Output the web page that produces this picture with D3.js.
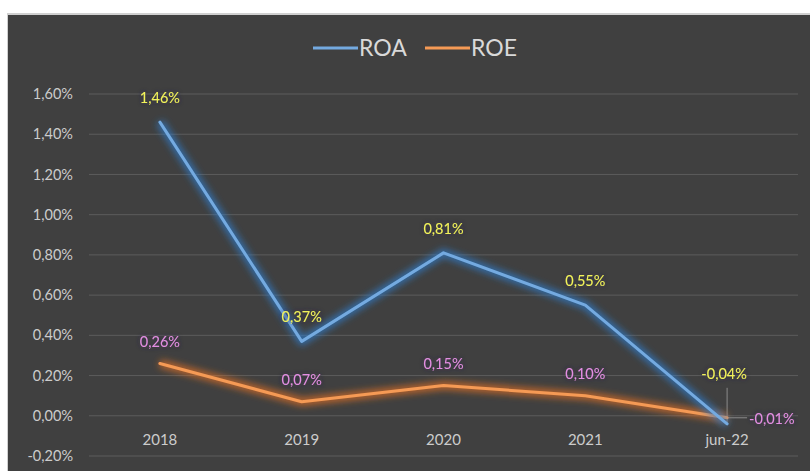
<!DOCTYPE html>
<html>
<head>
<meta charset="utf-8">
<script src="https://cdn.jsdelivr.net/npm/d3@7"></script>
<style>
  html, body { margin: 0; padding: 0; background: #ffffff; }
  svg { display: block; }
  text { font-family: Lato, "Open Sans", "DejaVu Sans", sans-serif; }
</style>
</head>
<body>
<svg id="chart" width="810" height="471"></svg>
<script>
// Periods on the category axis
const categories = ["2018", "2019", "2020", "2021", "jun-22"];
// Return on assets, percent
const roaValues = [1.46, 0.37, 0.81, 0.55, -0.04];
// Return on equity, percent
const roeValues = [0.26, 0.07, 0.15, 0.10, -0.01];
// Value axis ticks, percent
const yTicks = [-0.2, 0, 0.2, 0.4, 0.6, 0.8, 1.0, 1.2, 1.4, 1.6];
const seriesNames = ["ROA", "ROE"];

const W = 810, H = 471;
const svg = d3.select("#chart");

const fmt = v => v.toFixed(2).replace(".", ",") + "%";

// Glow filters
const defs = svg.append("defs");
const gf = defs.append("filter").attr("id", "lineGlow")
  .attr("x", "-20%").attr("y", "-50%").attr("width", "140%").attr("height", "200%");
gf.append("feGaussianBlur").attr("stdDeviation", 3.5);

const lf = defs.append("filter").attr("id", "labelGlow")
  .attr("x", "-20%").attr("y", "-40%").attr("width", "140%").attr("height", "180%");
lf.append("feGaussianBlur").attr("in", "SourceAlpha").attr("stdDeviation", 2.5).attr("result", "b");
lf.append("feFlood").attr("flood-color", "#2a2448").attr("flood-opacity", 0.9);
lf.append("feComposite").attr("in2", "b").attr("operator", "in").attr("result", "s");
const lm = lf.append("feMerge");
lm.append("feMergeNode").attr("in", "s");
lm.append("feMergeNode").attr("in", "SourceGraphic");

// Chart panel
svg.append("rect").attr("x", 7).attr("y", 13).attr("width", W - 7).attr("height", H - 13)
  .attr("fill", "#d0d0d0");
svg.append("rect").attr("x", 8).attr("y", 15).attr("width", W - 8).attr("height", H - 15)
  .attr("fill", "#404040");

const x = d3.scaleBand().domain(categories).range([89, 798]).padding(0);
const y = d3.scaleLinear().domain([-0.2, 1.6]).range([456, 94]);
const cx = d => x(d) + x.bandwidth() / 2;

// Horizontal gridlines
svg.append("g").selectAll("line").data(yTicks).join("line")
  .attr("x1", 89).attr("x2", 798)
  .attr("y1", d => y(d)).attr("y2", d => y(d))
  .attr("stroke", "#5c5c5c").attr("stroke-width", 1);

// Value axis
const yAxis = svg.append("g").attr("transform", "translate(77,0)")
  .call(d3.axisLeft(y).tickValues(yTicks).tickSize(0).tickPadding(4).tickFormat(fmt));
yAxis.select(".domain").remove();
yAxis.selectAll("text").attr("fill", "#cccccc").attr("font-size", 14.5);

// Category axis
const xAxis = svg.append("g").attr("transform", "translate(0,440)")
  .call(d3.axisBottom(x).tickSize(0).tickPadding(0));
xAxis.select(".domain").remove();
xAxis.selectAll("text").attr("fill", "#cccccc").attr("font-size", 15).attr("dy", "0.35em");

// Lines
const line = d3.line().x((d, i) => cx(categories[i])).y(d => y(d));
const series = [
  { name: "ROA", values: roaValues, core: "#74aae0", halo: "#2f7fd0", label: "#f2f25a" },
  { name: "ROE", values: roeValues, core: "#f59a55", halo: "#e8711f", label: "#e38ee3" }
];

// Leader lines for the last period labels
const lastCat = categories[categories.length - 1];
const lx = cx(lastCat);
svg.append("line").attr("x1", lx).attr("x2", lx)
  .attr("y1", y(roaValues[4]) - 36).attr("y2", y(roaValues[4]))
  .attr("stroke", "#8a8a8a").attr("stroke-width", 1);
svg.append("line").attr("x1", lx).attr("x2", lx + 20)
  .attr("y1", y(roeValues[4])).attr("y2", y(roeValues[4]))
  .attr("stroke", "#8a8a8a").attr("stroke-width", 1);

series.slice().reverse().forEach(s => {
  svg.append("path").datum(s.values).attr("d", line)
    .attr("fill", "none").attr("stroke", s.halo).attr("stroke-width", 8)
    .attr("stroke-opacity", 0.75).attr("stroke-linejoin", "round")
    .attr("filter", "url(#lineGlow)");
  svg.append("path").datum(s.values).attr("d", line)
    .attr("fill", "none").attr("stroke", s.core).attr("stroke-width", 3)
    .attr("stroke-linejoin", "round").attr("stroke-linecap", "round");
});

// Data labels
series.forEach((s, si) => {
  s.values.forEach((v, i) => {
    const last = i === categories.length - 1;
    let tx = cx(categories[i]), ty = y(v) - 22 + (si === 0 ? -2 : 0), anchor = "middle";
    if (last && si === 0) { ty = y(v) - 50; tx -= 3; }
    if (last && si === 1) { tx += 22; ty = y(v) + 1; anchor = "start"; }
    svg.append("text").attr("x", tx).attr("y", ty).attr("dy", "0.35em")
      .attr("text-anchor", anchor).attr("fill", s.label).attr("font-size", 14.5)
      .attr("filter", "url(#labelGlow)").text(fmt(v));
  });
});

// Legend
const legend = svg.append("g");
const legendItems = [
  { name: seriesNames[0], color: series[0].core, x0: 313 },
  { name: seriesNames[1], color: series[1].core, x0: 425 }
];
legendItems.forEach(it => {
  legend.append("line").attr("x1", it.x0).attr("x2", it.x0 + 45)
    .attr("y1", 48).attr("y2", 48).attr("stroke", it.color).attr("stroke-width", 3);
  legend.append("text").attr("x", it.x0 + 46).attr("y", 48).attr("dy", "0.36em")
    .attr("fill", "#d9d9d9").attr("font-size", 23).text(it.name);
});
</script>
</body>
</html>
